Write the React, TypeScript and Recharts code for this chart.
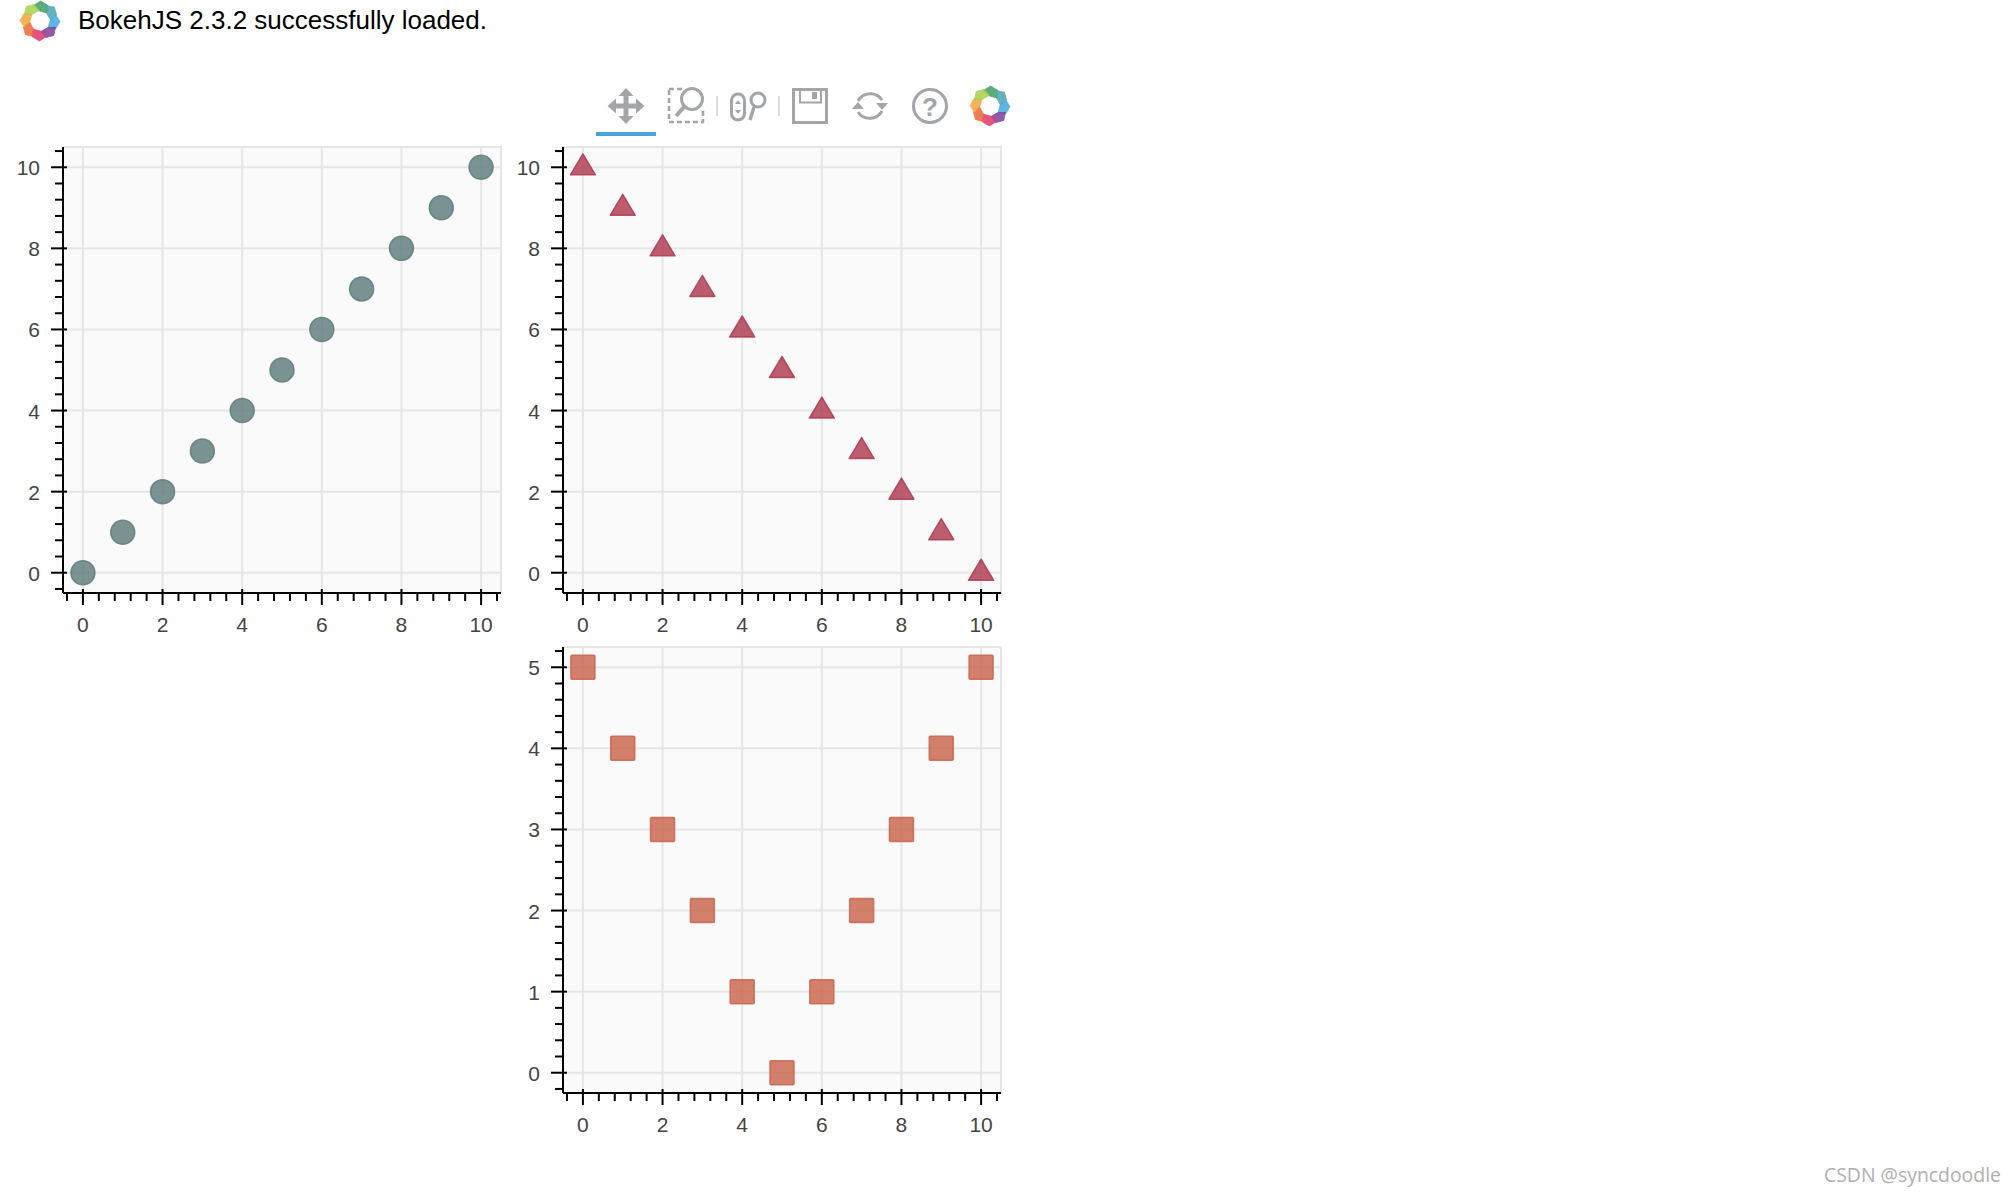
import React from "react";
import {
  ScatterChart,
  Scatter,
  XAxis,
  YAxis,
  CartesianGrid,
  ReferenceArea,
} from "recharts";

const xValues = [0, 1, 2, 3, 4, 5, 6, 7, 8, 9, 10];
const risingValues = [0, 1, 2, 3, 4, 5, 6, 7, 8, 9, 10];
const fallingValues = [10, 9, 8, 7, 6, 5, 4, 3, 2, 1, 0];
const valleyValues = [5, 4, 3, 2, 1, 0, 1, 2, 3, 4, 5];

const majorTicks = [0, 2, 4, 6, 8, 10];
const minorTicks = [
  -0.4, 0.4, 0.8, 1.2, 1.6, 2.4, 2.8, 3.2, 3.6, 4.4, 4.8, 5.2, 5.6, 6.4, 6.8,
  7.2, 7.6, 8.4, 8.8, 9.2, 9.6, 10.4,
];
const valleyMajorTicks = [0, 1, 2, 3, 4, 5];
const valleyMinorTicks = [
  -0.2, 0.2, 0.4, 0.6, 0.8, 1.2, 1.4, 1.6, 1.8, 2.2, 2.4, 2.6, 2.8, 3.2, 3.4,
  3.6, 3.8, 4.2, 4.4, 4.6, 4.8, 5.2,
];

const WIDE_DOMAIN = [-0.5, 10.5];
const VALLEY_DOMAIN = [-0.25, 5.25];

const TEXT = "#444444";
const GRID = "#e6e6e6";
const ICON = "#a2a6a9";
const LOGO_COLORS = [
  "#3f9c63",
  "#4aa5ac",
  "#45a8e0",
  "#7e3f98",
  "#e0356f",
  "#e9683a",
  "#f3a63c",
  "#a9cf4d",
];

const toRows = (ys: number[]) => xValues.map((x, i) => ({ x, y: ys[i] }));

const Circle = ({ cx, cy }: any) => (
  <circle cx={cx} cy={cy} r={12} fill="#5f7b7c" fillOpacity={0.82} stroke="#5f7b7c" strokeOpacity={0.85} strokeWidth={1.5} />
);

const Triangle = ({ cx, cy }: any) => (
  <path
    d={`M${cx} ${cy - 13.5}L${cx + 12.5} ${cy + 7.5}L${cx - 12.5} ${cy + 7.5}Z`}
    fill="#ad3a50"
    fillOpacity={0.82}
    stroke="#ad3a50"
    strokeOpacity={0.85}
    strokeWidth={1.5}
    strokeLinejoin="round"
  />
);

const Square = ({ cx, cy }: any) => (
  <rect
    x={cx - 12}
    y={cy - 12}
    width={24}
    height={24}
    rx={1}
    fill="#c9644c"
    fillOpacity={0.82}
    stroke="#c9644c"
    strokeOpacity={0.85}
    strokeWidth={1.5}
  />
);

function XTick({ x, y, payload, majors }: any) {
  const major = majors.includes(payload.value);
  return (
    <g>
      <line x1={x} x2={x} y1={major ? y - 4 : y} y2={major ? y + 12 : y + 8} stroke="#000" strokeWidth={2} />
      {major && (
        <text x={x} y={y + 38.5} textAnchor="middle" fontSize={21} fontFamily="Liberation Sans" fill={TEXT}>
          {payload.value}
        </text>
      )}
    </g>
  );
}

function YTick({ x, y, payload, majors }: any) {
  const major = majors.includes(payload.value);
  return (
    <g>
      <line x1={major ? x - 12 : x - 8} x2={major ? x + 4 : x} y1={y} y2={y} stroke="#000" strokeWidth={2} />
      {major && (
        <text x={x - 23} y={y + 8} textAnchor="end" fontSize={21} fontFamily="Liberation Sans" fill={TEXT}>
          {payload.value}
        </text>
      )}
    </g>
  );
}

function Panel({ left, top, rows, shape, yDomain, yMajors, yMinors }: any) {
  const yTicks = [...yMajors, ...yMinors].sort((a, b) => a - b);
  const xTicks = [...majorTicks, ...minorTicks].sort((a, b) => a - b);
  return (
    <div style={{ position: "absolute", left, top }}>
      <ScatterChart
        width={520}
        height={530}
        margin={{ top: 17, right: 19, bottom: 0, left: 0 }}
      >
        <CartesianGrid
          stroke={GRID}
          strokeWidth={2}
          fill="#fafafa"
          fillOpacity={1}
          verticalValues={majorTicks}
          horizontalValues={yMajors}
        />
        <ReferenceArea
          x1={WIDE_DOMAIN[0]}
          x2={WIDE_DOMAIN[1]}
          y1={yDomain[0]}
          y2={yDomain[1]}
          fill="none"
          stroke={GRID}
          strokeWidth={2}
        />
        <XAxis
          dataKey="x"
          type="number"
          domain={WIDE_DOMAIN}
          ticks={xTicks}
          interval={0}
          height={67}
          tickSize={0}
          tickMargin={0}
          tickLine={false}
          axisLine={{ stroke: "#000", strokeWidth: 2 }}
          tick={<XTick majors={majorTicks} />}
        />
        <YAxis
          dataKey="y"
          type="number"
          domain={yDomain}
          ticks={yTicks}
          interval={0}
          width={63}
          tickSize={0}
          tickMargin={0}
          tickLine={false}
          axisLine={{ stroke: "#000", strokeWidth: 2 }}
          tick={<YTick majors={yMajors} />}
        />
        <Scatter data={rows} shape={shape} isAnimationActive={false} />
      </ScatterChart>
    </div>
  );
}

function Logo({ cx, cy }: { cx: number; cy: number }) {
  return (
    <svg
      style={{ position: "absolute", left: cx - 22, top: cy - 22 }}
      width={44}
      height={44}
      viewBox="-22 -22 44 44"
    >
      {LOGO_COLORS.map((color, i) => (
        <path
          key={color}
          transform={`rotate(${i * 45})`}
          d="M-6.500 -15.500 L0.500 -20 L7.500 -16 L7 -8 L-0.500 -10 Z"
          fill={color}
          fillOpacity={0.85}
          stroke={color}
          strokeWidth={0.6}
          strokeLinejoin="round"
        />
      ))}
    </svg>
  );
}

function Toolbar() {
  return (
    <svg
      style={{ position: "absolute", left: 590, top: 80 }}
      width={370}
      height={60}
      viewBox="590 80 370 60"
    >
      {/* pan */}
      <path
        d="M626 88l7.500 8h-5v7.500h7.500v-5l8.500 7.500-8.500 7.500v-5h-7.500v7.500h5l-7.500 8-7.500-8h5v-7.500h-7.500v5l-8.500-7.500 8.500-7.500v5h7.500v-7.500h-5z"
        fill={ICON}
      />
      <rect x={596} y={132} width={60} height={4} fill="#4ca3d9" />
      {/* box zoom */}
      <rect x={669} y={89} width={34} height={33} fill="none" stroke={ICON} strokeWidth={2.5} strokeDasharray="5 3" />
      <rect x={682} y={84} width={24} height={24} fill="#fff" />
      <circle cx={692} cy={99} r={10.500} fill="#fff" stroke={ICON} strokeWidth={3} />
      <line x1={684} y1={107} x2={676} y2={116} stroke={ICON} strokeWidth={4} />
      <rect x={716} y={96} width={2} height={20} fill="#ddd" />
      {/* wheel zoom */}
      <rect x={731.500} y={94} width={13} height={26} rx={6.500} fill="none" stroke={ICON} strokeWidth={3} />
      <path d="M738 100l3 4h-6zM738 114l3-4h-6z" fill={ICON} />
      <circle cx={758} cy={100} r={7} fill="none" stroke={ICON} strokeWidth={3} />
      <line x1={754} y1={107} x2={750} y2={120} stroke={ICON} strokeWidth={3.5} />
      <rect x={778} y={96} width={2} height={20} fill="#ddd" />
      {/* save */}
      <rect x={793.500} y={89.500} width={33} height={33} fill="none" stroke={ICON} strokeWidth={3} />
      <path d="M800 90v12.500h21v-12.500" fill="none" stroke={ICON} strokeWidth={2} />
      <rect x={812} y={92} width={5} height={7} fill={ICON} />
      {/* reset */}
      <path d="M858 101a14 14 0 0 1 24-1" fill="none" stroke={ICON} strokeWidth={3} />
      <path d="M882 111a14 14 0 0 1-24 1" fill="none" stroke={ICON} strokeWidth={3} />
      <path d="M876 103h12l-6 7zM852 109h12l-6-7z" fill={ICON} />
      {/* help */}
      <circle cx={930} cy={106} r={16.500} fill="none" stroke={ICON} strokeWidth={3} />
      <text x={930} y={115.500} textAnchor="middle" fontSize={26} fontWeight={700} fontFamily="Liberation Sans" fill={ICON}>
        ?
      </text>
    </svg>
  );
}

export default function App() {
  return (
    <div style={{ position: "absolute", left: 0, top: 0, width: 2014, height: 1196, background: "#fff", overflow: "hidden" }}>
      <Logo cx={40} cy={21} />
      <div
        style={{
          position: "absolute",
          left: 78,
          top: 5,
          fontFamily: "Liberation Sans",
          fontSize: 26,
          lineHeight: "30px",
          color: "#000",
          whiteSpace: "nowrap",
        }}
      >
        BokehJS 2.3.2 successfully loaded.
      </div>
      <Toolbar />
      <Logo cx={990} cy={106} />
      <Panel left={0} top={130} rows={toRows(risingValues)} shape={Circle} yDomain={WIDE_DOMAIN} yMajors={majorTicks} yMinors={minorTicks} />
      <Panel left={500} top={130} rows={toRows(fallingValues)} shape={Triangle} yDomain={WIDE_DOMAIN} yMajors={majorTicks} yMinors={minorTicks} />
      <Panel left={500} top={630} rows={toRows(valleyValues)} shape={Square} yDomain={VALLEY_DOMAIN} yMajors={valleyMajorTicks} yMinors={valleyMinorTicks} />
      <div
        style={{
          position: "absolute",
          left: 1824,
          top: 1163,
          fontFamily: "Open Sans",
          fontSize: 19.400,
          lineHeight: "24px",
          color: "#b0b0b0",
          whiteSpace: "nowrap",
        }}
      >
        CSDN @syncdoodle
      </div>
    </div>
  );
}
